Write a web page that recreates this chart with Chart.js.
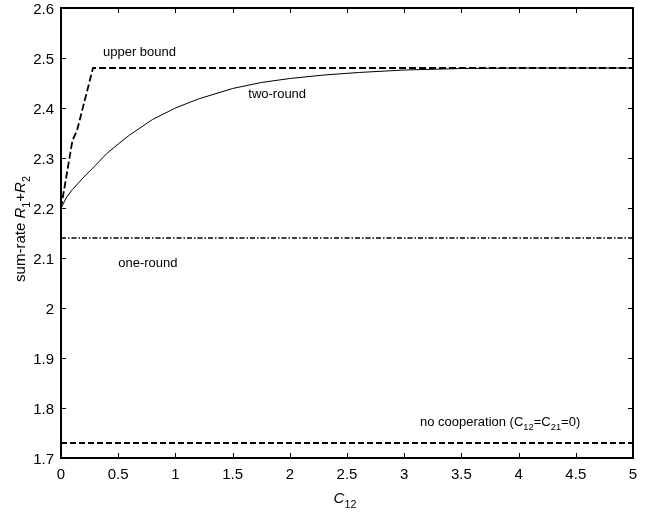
<!DOCTYPE html>
<html>
<head>
<meta charset="utf-8">
<script src="https://cdn.jsdelivr.net/npm/chart.js@4.4.1/dist/chart.umd.min.js"></script>
<style>
    body { margin: 0; background: #fff; }
    #wrap { width: 662px; height: 516px; position: relative; }
</style>
</head>
<body>
<div id="wrap"><canvas id="grafico"></canvas></div>
<script>
// values (x = C12, y = sum-rate)
const twoRoundX = [0, 0.05, 0.1, 0.2, 0.3, 0.4, 0.5, 0.6, 0.8, 1.0, 1.2, 1.5, 1.75, 2.0, 2.3, 2.6, 3.0, 3.5, 4.0, 5.0];
const twoRoundY = [2.2, 2.222, 2.237, 2.262, 2.285, 2.309, 2.328, 2.346, 2.377, 2.4, 2.418, 2.439, 2.451, 2.459, 2.466, 2.471, 2.476, 2.479, 2.48, 2.48];
const upperX = [0, 0.1, 0.14, 0.28, 5];
const upperY = [2.2, 2.335, 2.355, 2.48, 2.48];
const oneRoundX = [0, 5];
const oneRoundY = [2.14, 2.14];
const noCoopX = [0, 5];
const noCoopY = [1.73, 1.73];
const xTicks = [0, 0.5, 1, 1.5, 2, 2.5, 3, 3.5, 4, 4.5, 5];
const yTicks = [1.7, 1.8, 1.9, 2, 2.1, 2.2, 2.3, 2.4, 2.5, 2.6];

const FONT = '"Liberation Sans", Arial, Helvetica, sans-serif';

function puntos(xs, ys) {
    return xs.map((x, i) => ({ x: x, y: ys[i] }));
}

// text with italic letters and subscripts, drawn on the canvas
function textoRico(ctx, runs, x, y, size, align) {
    const fuente = (r) => (r.i ? 'italic ' : '') + (r.sub ? size * 0.72 : size) + 'px ' + FONT;
    let ancho = 0;
    runs.forEach(r => { ctx.font = fuente(r); ancho += ctx.measureText(r.t).width; });
    let cx = align === 'center' ? x - ancho / 2 : x;
    const base = y + size * 0.36;
    ctx.textBaseline = 'alphabetic';
    ctx.textAlign = 'left';
    runs.forEach(r => {
        ctx.font = fuente(r);
        ctx.fillText(r.t, cx, r.sub ? base + size * 0.3 : base);
        cx += ctx.measureText(r.t).width;
    });
}

const etiquetas = [
    { x: 0.367, y: 2.514, runs: [{ t: 'upper bound' }] },
    { x: 1.637, y: 2.429, runs: [{ t: 'two-round' }] },
    { x: 0.5, y: 2.092, runs: [{ t: 'one-round' }] },
    { x: 3.138, y: 1.774, runs: [{ t: 'no cooperation (C' }, { t: '12', sub: true }, { t: '=C' }, { t: '21', sub: true }, { t: '=0)' }] },
];

const marco = {
    id: 'marco',
    afterDatasetsDraw(chart) {
        const { ctx, chartArea: a, scales } = chart;
        ctx.save();
        ctx.strokeStyle = '#000';
        ctx.lineWidth = 1;
        ctx.beginPath();
        scales.x.ticks.forEach(t => {
            const px = Math.round(scales.x.getPixelForValue(t.value)) + 0.5;
            ctx.moveTo(px, a.bottom); ctx.lineTo(px, a.bottom - 5);
            ctx.moveTo(px, a.top); ctx.lineTo(px, a.top + 5);
        });
        scales.y.ticks.forEach(t => {
            const py = Math.round(scales.y.getPixelForValue(t.value)) + 0.5;
            ctx.moveTo(a.left, py); ctx.lineTo(a.left + 5, py);
            ctx.moveTo(a.right, py); ctx.lineTo(a.right - 5, py);
        });
        ctx.stroke();
        ctx.lineWidth = 2;
        ctx.strokeRect(a.left, a.top, a.width, a.height);

        ctx.fillStyle = '#000';
        etiquetas.forEach(e => {
            textoRico(ctx, e.runs, scales.x.getPixelForValue(e.x), scales.y.getPixelForValue(e.y), 13, 'left');
        });
        // axis titles
        textoRico(ctx, [{ t: 'C', i: true }, { t: '12', sub: true }], (a.left + a.right) / 2 - 2, a.bottom + 40, 15, 'center');
        ctx.translate(20, (a.top + a.bottom) / 2 - 4);
        ctx.rotate(-Math.PI / 2);
        textoRico(ctx, [{ t: 'sum-rate ' }, { t: 'R', i: true }, { t: '1', sub: true }, { t: '+' }, { t: 'R', i: true }, { t: '2', sub: true }], 0, 0, 15, 'center');
        ctx.restore();
    }
};

const serie = (data, ancho, guiones) => ({
    data: data,
    borderColor: '#000',
    borderWidth: ancho,
    borderDash: guiones,
    pointRadius: 0,
    tension: 0,
    fill: false,
});

const ctx = document.getElementById('grafico').getContext('2d');
new Chart(ctx, {
    type: 'line',
    data: {
        datasets: [
            serie(puntos(twoRoundX, twoRoundY), 1, []),
            serie(puntos(upperX, upperY), 1.8, [7, 3]),
            serie(puntos(oneRoundX, oneRoundY), 1.3, [5, 2, 1.5, 2]),
            serie(puntos(noCoopX, noCoopY), 1.8, [6, 3]),
        ],
    },
    options: {
        responsive: true,
        maintainAspectRatio: false,
        animation: false,
        layout: { padding: { top: 8, right: 29, bottom: 0, left: 0 } },
        plugins: { legend: { display: false }, tooltip: { enabled: false } },
        scales: {
            x: {
                type: 'linear',
                min: 0, max: 5,
                afterBuildTicks: s => { s.ticks = xTicks.map(v => ({ value: v })); },
                afterFit: s => { s.height = 58; s.paddingLeft = 0; s.paddingRight = 0; },
                grid: { display: false, drawTicks: false },
                border: { display: false },
                ticks: { color: '#000', padding: 8, maxRotation: 0, autoSkip: false, font: { family: FONT, size: 15 }, callback: v => String(v) },
            },
            y: {
                type: 'linear',
                min: 1.7, max: 2.6,
                afterBuildTicks: s => { s.ticks = yTicks.map(v => ({ value: v })); },
                afterFit: s => { s.width = 61; s.paddingTop = 0; s.paddingBottom = 0; },
                grid: { display: false, drawTicks: false },
                border: { display: false },
                ticks: { color: '#000', padding: 7, labelOffset: 2, autoSkip: false, font: { family: FONT, size: 15 }, callback: v => String(v) },
            },
        },
    },
    plugins: [marco],
});
</script>
</body>
</html>
